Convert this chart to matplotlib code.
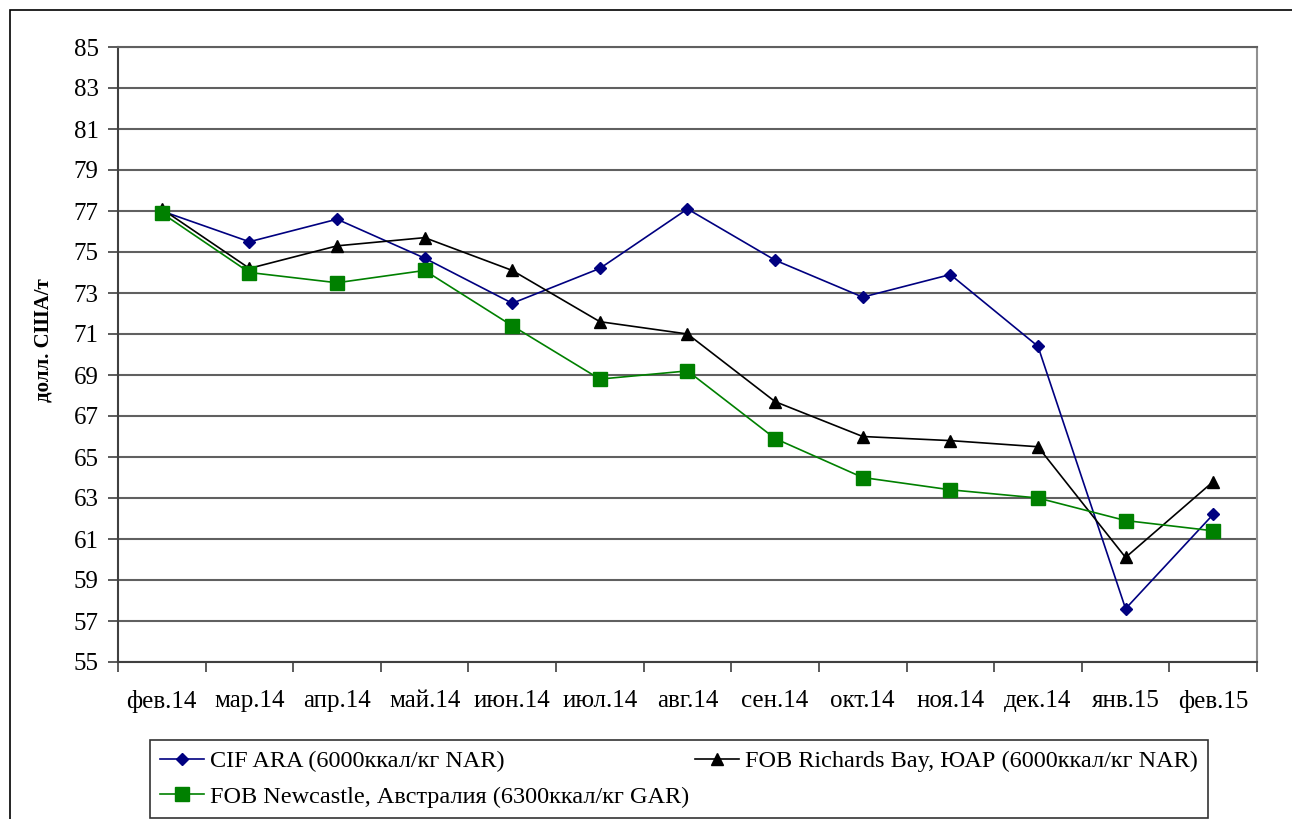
import numpy as np
import matplotlib.pyplot as plt
from matplotlib.patches import Rectangle

plt.rcParams['font.family'] = ['Liberation Serif', 'DejaVu Serif']

months = ['фев.14', 'мар.14', 'апр.14', 'май.14', 'июн.14', 'июл.14', 'авг.14',
          'сен.14', 'окт.14', 'ноя.14', 'дек.14', 'янв.15', 'фев.15']
cif_ara = [77.0, 75.5, 76.6, 74.7, 72.5, 74.2, 77.1, 74.6, 72.8, 73.9, 70.4, 57.6, 62.2]
fob_richards = [77.1, 74.2, 75.3, 75.7, 74.1, 71.6, 71.0, 67.7, 66.0, 65.8, 65.5, 60.1, 63.8]
fob_newcastle = [76.9, 74.0, 73.5, 74.1, 71.4, 68.8, 69.2, 65.9, 64.0, 63.4, 63.0, 61.9, 61.4]
labels = ['CIF ARA (6000ккал/кг NAR)',
          'FOB Richards Bay, ЮАР (6000ккал/кг NAR)',
          'FOB Newcastle, Австралия (6300ккал/кг GAR)']

W, H = 1292, 819
fig = plt.figure(figsize=(W / 100, H / 100), dpi=100)
ax = fig.add_axes([118 / W, 1 - 662 / H, (1257 - 118) / W, (662 - 47) / H])

# рамка вокруг всей диаграммы
fig.patches.append(Rectangle((10 / W, -0.01), 1.0, 1 - 10 / H + 0.01,
                             transform=fig.transFigure, fill=False,
                             edgecolor='black', linewidth=1.2))

x = np.arange(len(months))
l1, = ax.plot(x, cif_ara, color='#000080', marker='D', markersize=6.5, linewidth=1.2)
l2, = ax.plot(x, fob_richards, color='black', marker='^', markersize=9, linewidth=1.2)
l3, = ax.plot(x, fob_newcastle, color='#008000', marker='s', markersize=10, linewidth=1.2)

ax.set_xlim(-0.5, len(months) - 0.5)
ax.set_ylim(55, 85)
ax.set_yticks(np.arange(55, 86, 2))
ax.yaxis.grid(True, color='#606060', linewidth=1.5)
ax.set_axisbelow(True)

ax.set_xticks(x)
ax.set_xticklabels(months, fontsize=18)
ax.set_xticks(np.arange(-0.5, len(months), 1), minor=True)
ax.tick_params(axis='x', which='major', length=0, pad=20)
ax.tick_params(axis='x', which='minor', length=7, width=1.2, color='#404040')
ax.tick_params(axis='y', length=7, width=1.2, labelsize=18, pad=7, color='#404040')

ax.spines['left'].set_color('#404040')
ax.spines['left'].set_linewidth(1.5)
ax.spines['bottom'].set_color('#404040')
ax.spines['bottom'].set_linewidth(1.5)
ax.spines['right'].set_color('#909090')
ax.spines['right'].set_linewidth(1.5)
ax.spines['top'].set_color('#606060')
ax.spines['top'].set_linewidth(1.5)

ax.set_ylabel('долл. США/т', fontsize=15, fontweight='bold')
ax.yaxis.set_label_coords(-0.057, 0.524)

leg = fig.legend([l1, l3, l2], [labels[0], labels[2], labels[1]], ncol=2,
                 loc='upper left', bbox_to_anchor=(150 / W, 1 - 740 / H),
                 fontsize=17.5, frameon=True, fancybox=False,
                 handlelength=1.8, handletextpad=0.25, borderaxespad=0,
                 labelspacing=0.56, columnspacing=0.25, borderpad=0.42)
leg.get_frame().set_edgecolor('black')
leg.get_frame().set_linewidth(1.2)

fig.savefig('out.png', dpi=100)
